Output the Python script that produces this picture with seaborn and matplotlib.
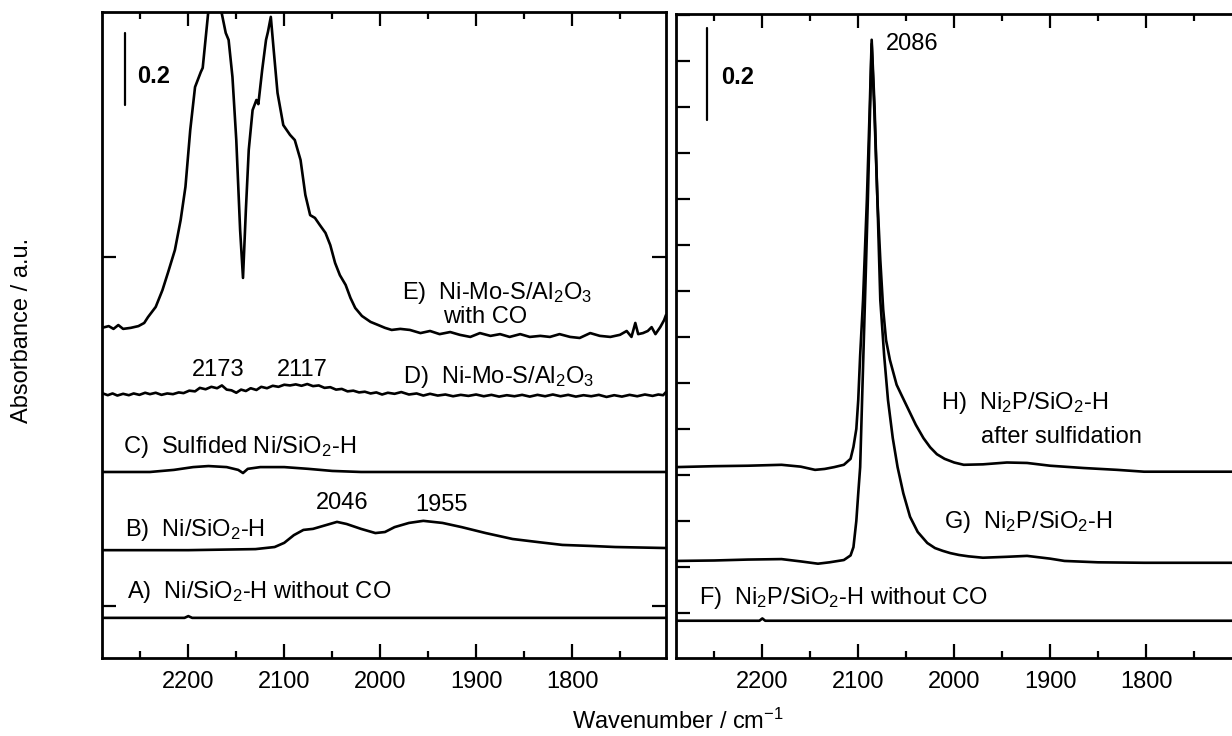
import matplotlib
matplotlib.use("Agg")
import matplotlib.pyplot as plt
import seaborn as sns
import pandas as pd
from matplotlib.ticker import MultipleLocator, FixedLocator

sns.set_theme(style="ticks")
plt.rcParams['font.family'] = ['Liberation Sans', 'DejaVu Sans']
plt.rcParams['mathtext.fontset'] = 'custom'
plt.rcParams['mathtext.rm'] = 'Liberation Sans'
plt.rcParams['mathtext.it'] = 'Liberation Sans:italic'
plt.rcParams['mathtext.bf'] = 'Liberation Sans:bold'
plt.rcParams['text.color'] = 'black'
plt.rcParams['axes.labelcolor'] = 'black'
plt.rcParams['xtick.color'] = 'black'
plt.rcParams['ytick.color'] = 'black'
plt.rcParams['axes.edgecolor'] = 'black'

# ---------------- data (wavenumber cm-1, absorbance offset a.u.) ----------------
# Left panel
A_pts = [(2290, -0.034), (2204, -0.034), (2200, -0.029), (2196, -0.034), (1700, -0.034)]

B_pts = [(2290, 0.160), (2200, 0.160), (2130, 0.163), (2110, 0.169), (2100, 0.181),
         (2090, 0.203), (2080, 0.218), (2070, 0.221), (2060, 0.229), (2045, 0.241),
         (2035, 0.235), (2020, 0.221), (2005, 0.209), (1995, 0.212), (1985, 0.226),
         (1970, 0.238), (1955, 0.244), (1935, 0.238), (1915, 0.226), (1890, 0.209),
         (1862, 0.192), (1835, 0.183), (1810, 0.175), (1780, 0.172), (1755, 0.169),
         (1700, 0.166)]

C_pts = [(2290, 0.384), (2240, 0.384), (2215, 0.390), (2195, 0.398), (2179, 0.401),
         (2160, 0.398), (2148, 0.390), (2143, 0.381), (2138, 0.393), (2125, 0.398),
         (2100, 0.398), (2075, 0.393), (2050, 0.387), (2020, 0.384), (1700, 0.384)]

D_pts = [(2290, 0.610), (2284, 0.604), (2279, 0.609), (2274, 0.603), (2268, 0.608),
         (2262, 0.604), (2257, 0.609), (2251, 0.605), (2245, 0.611), (2240, 0.607),
         (2234, 0.611), (2228, 0.605), (2222, 0.609), (2216, 0.607), (2210, 0.612),
         (2205, 0.610), (2199, 0.617), (2193, 0.615), (2188, 0.625), (2182, 0.621),
         (2176, 0.628), (2170, 0.624), (2165, 0.632), (2160, 0.620), (2155, 0.618),
         (2150, 0.611), (2145, 0.620), (2140, 0.616), (2135, 0.624), (2129, 0.619),
         (2124, 0.628), (2118, 0.624), (2112, 0.631), (2106, 0.628), (2100, 0.634),
         (2094, 0.632), (2088, 0.635), (2082, 0.631), (2076, 0.636), (2070, 0.630),
         (2064, 0.632), (2058, 0.625), (2052, 0.627), (2046, 0.620), (2040, 0.622),
         (2034, 0.615), (2028, 0.617), (2022, 0.612), (2016, 0.614), (2010, 0.609),
         (2004, 0.612), (1998, 0.606), (1992, 0.611), (1985, 0.608), (1978, 0.613),
         (1970, 0.606), (1962, 0.609), (1955, 0.603), (1948, 0.608), (1940, 0.603),
         (1932, 0.606), (1924, 0.601), (1916, 0.605), (1908, 0.602), (1900, 0.606),
         (1892, 0.601), (1884, 0.605), (1876, 0.600), (1868, 0.604), (1860, 0.601),
         (1852, 0.605), (1844, 0.600), (1836, 0.605), (1828, 0.601), (1820, 0.606),
         (1812, 0.601), (1804, 0.605), (1796, 0.600), (1788, 0.604), (1780, 0.601),
         (1772, 0.605), (1764, 0.599), (1756, 0.604), (1748, 0.600), (1740, 0.605),
         (1732, 0.601), (1724, 0.606), (1716, 0.602), (1710, 0.606), (1705, 0.604),
         (1702, 0.613)]

E_pts = [(2290, 0.797), (2283, 0.802), (2278, 0.794), (2273, 0.805), (2268, 0.794),
         (2260, 0.797), (2252, 0.802), (2246, 0.811), (2242, 0.828), (2234, 0.857),
         (2227, 0.905), (2221, 0.957), (2214, 1.020), (2208, 1.106), (2203, 1.201),
         (2198, 1.364), (2193, 1.487), (2187, 1.530), (2185, 1.542), (2179, 1.708),
         (2173, 1.794), (2169, 1.736), (2165, 1.696), (2161, 1.642), (2158, 1.622),
         (2154, 1.516), (2150, 1.335), (2146, 1.077), (2143, 0.940), (2140, 1.135),
         (2137, 1.307), (2133, 1.421), (2129, 1.450), (2127, 1.438), (2123, 1.536),
         (2119, 1.622), (2117, 1.645), (2114, 1.688), (2111, 1.593), (2107, 1.470),
         (2101, 1.378), (2094, 1.350), (2089, 1.335), (2083, 1.278), (2078, 1.178),
         (2073, 1.120), (2068, 1.112), (2063, 1.092), (2057, 1.069), (2052, 1.034),
         (2047, 0.983), (2042, 0.948), (2036, 0.920), (2031, 0.883), (2026, 0.854),
         (2019, 0.831), (2010, 0.814), (2002, 0.805), (1995, 0.797), (1988, 0.791),
         (1979, 0.794), (1969, 0.791), (1958, 0.782), (1948, 0.788), (1938, 0.779),
         (1927, 0.785), (1917, 0.777), (1906, 0.771), (1896, 0.782), (1885, 0.774),
         (1875, 0.779), (1865, 0.771), (1854, 0.779), (1844, 0.771), (1833, 0.774),
         (1823, 0.771), (1813, 0.779), (1802, 0.771), (1792, 0.768), (1781, 0.782),
         (1771, 0.774), (1760, 0.771), (1750, 0.777), (1743, 0.788), (1738, 0.771),
         (1734, 0.811), (1731, 0.779), (1726, 0.782), (1721, 0.788), (1717, 0.799),
         (1713, 0.779), (1708, 0.799), (1704, 0.819), (1702, 0.834)]

# Right panel
F_pts = [(2290, -0.017), (2203, -0.017), (2200, -0.012), (2197, -0.017), (1700, -0.017)]

G_pts = [(2290, 0.113), (2250, 0.114), (2215, 0.116), (2180, 0.117), (2160, 0.112),
         (2142, 0.107), (2130, 0.110), (2115, 0.115), (2108, 0.125), (2105, 0.143),
         (2102, 0.200), (2100, 0.260), (2098, 0.317), (2095, 0.535), (2092, 0.750),
         (2090, 0.898), (2086, 1.237), (2083, 1.080), (2080, 0.898), (2077, 0.680),
         (2073, 0.560), (2069, 0.463), (2064, 0.380), (2059, 0.317), (2053, 0.260),
         (2046, 0.209), (2038, 0.176), (2028, 0.152), (2020, 0.141), (2012, 0.135),
         (2004, 0.130), (1995, 0.126), (1985, 0.123), (1970, 0.120), (1945, 0.122),
         (1924, 0.124), (1900, 0.118), (1885, 0.113), (1850, 0.110), (1802, 0.109),
         (1750, 0.109), (1700, 0.109)]

H_pts = [(2290, 0.317), (2250, 0.319), (2215, 0.320), (2180, 0.322), (2160, 0.318),
         (2145, 0.311), (2135, 0.313), (2125, 0.317), (2115, 0.322), (2108, 0.335),
         (2105, 0.361), (2102, 0.400), (2100, 0.463), (2098, 0.560), (2095, 0.680),
         (2091, 0.898), (2088, 1.100), (2086, 1.246), (2083, 1.100), (2080, 0.898),
         (2077, 0.767), (2074, 0.660), (2071, 0.593), (2067, 0.550), (2060, 0.496),
         (2055, 0.474), (2049, 0.448), (2040, 0.409), (2032, 0.380), (2025, 0.360),
         (2018, 0.345), (2010, 0.335), (2000, 0.327), (1990, 0.322), (1970, 0.323),
         (1945, 0.327), (1924, 0.326), (1900, 0.320), (1865, 0.315), (1830, 0.311),
         (1802, 0.307), (1760, 0.307), (1700, 0.307)]

x_major_ticks = [2200, 2100, 2000, 1900, 1800]
x_tick_labels = ["2200", "2100", "2000", "1900", "1800"]

# ---------------- figure ----------------
fig = plt.figure(figsize=(12.32, 7.36), dpi=100)
axL = fig.add_axes([102 / 1232, 78 / 736, 564 / 1232, 646 / 736])
axR = fig.add_axes([676 / 1232, 78 / 736, 564 / 1232, 644 / 736])

LW = 1.9


def draw(ax, pts):
    df = pd.DataFrame(pts, columns=["wn", "abs"])
    sns.lineplot(data=df, x="wn", y="abs", ax=ax, color="black", lw=LW,
                 sort=False, estimator=None)


for p in [A_pts, B_pts, C_pts, D_pts, E_pts]:
    draw(axL, p)
for p in [F_pts, G_pts, H_pts]:
    draw(axR, p)

axL.set_ylim(-0.149, 1.702)
axR.set_ylim(-0.098, 1.302)
axL.yaxis.set_major_locator(FixedLocator([0.0, 1.0]))
axR.yaxis.set_major_locator(MultipleLocator(0.1))

for ax in (axL, axR):
    ax.set_xlim(2290, 1702)
    ax.set_xticks(x_major_ticks)
    ax.set_xticklabels(x_tick_labels)
    ax.xaxis.set_minor_locator(MultipleLocator(50))
    ax.tick_params(which="both", direction="in", top=True, right=True,
                   labelleft=False, width=1.6, colors="black")
    ax.tick_params(which="major", length=10, labelsize=17, pad=9)
    ax.tick_params(which="minor", length=5)
    ax.set_xlabel("")
    ax.set_ylabel("")
    for s in ax.spines.values():
        s.set_linewidth(2.0)
        s.set_color("black")
        s.set_visible(True)
axR.tick_params(axis="y", which="both", right=False)

TS = 17
# scale bars
axL.plot([2266, 2266], [1.436, 1.642], color="black", lw=1.6)
axL.text(2253, 1.516, "0.2", fontsize=TS, fontweight="bold", va="center", ha="left")
axR.plot([2258, 2258], [1.072, 1.272], color="black", lw=1.6)
axR.text(2243, 1.165, "0.2", fontsize=TS, fontweight="bold", va="center", ha="left")

# left annotations
axL.text(1977, 0.897, r"E)  Ni-Mo-S/Al$_2$O$_3$", fontsize=TS, va="center", ha="left")
axL.text(1934, 0.828, "with CO", fontsize=TS, va="center", ha="left")
axL.text(1976, 0.656, r"D)  Ni-Mo-S/Al$_2$O$_3$", fontsize=TS, va="center", ha="left")
axL.text(2169, 0.676, "2173", fontsize=TS, va="center", ha="center")
axL.text(2081, 0.676, "2117", fontsize=TS, va="center", ha="center")
axL.text(2268, 0.456, r"C)  Sulfided Ni/SiO$_2$-H", fontsize=TS, va="center", ha="left")
axL.text(2266, 0.218, r"B)  Ni/SiO$_2$-H", fontsize=TS, va="center", ha="left")
axL.text(2040, 0.295, "2046", fontsize=TS, va="center", ha="center")
axL.text(1936, 0.289, "1955", fontsize=TS, va="center", ha="center")
axL.text(2264, 0.040, r"A)  Ni/SiO$_2$-H without CO", fontsize=TS, va="center", ha="left")

# right annotations
axR.text(2071, 1.237, "2086", fontsize=TS, va="center", ha="left")
axR.text(2014, 0.457, r"H)  Ni$_2$P/SiO$_2$-H", fontsize=TS, va="center", ha="left")
axR.text(1972, 0.383, "after sulfidation", fontsize=TS, va="center", ha="left")
axR.text(2011, 0.198, r"G)  Ni$_2$P/SiO$_2$-H", fontsize=TS, va="center", ha="left")
axR.text(2266, 0.033, r"F)  Ni$_2$P/SiO$_2$-H without CO", fontsize=TS, va="center", ha="left")

fig.text(22 / 1232, 1 - 330 / 736, "Absorbance / a.u.", rotation=90, fontsize=TS,
         ha="center", va="center")
fig.text(678 / 1232, 1 - 721 / 736, r"Wavenumber / cm$^{-1}$", fontsize=TS,
         ha="center", va="center")

fig.savefig("out.png", dpi=100)
